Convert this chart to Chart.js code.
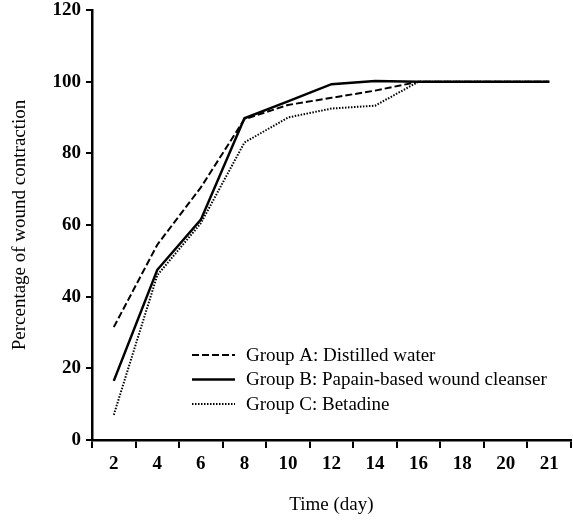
<!DOCTYPE html>
<html>
<head>
<meta charset="utf-8">
<script src="https://cdn.jsdelivr.net/npm/chart.js@4"></script>
<style>
  html, body { margin: 0; padding: 0; background: #fff; }
  #wrap { width: 573px; height: 520px; }
</style>
</head>
<body>
<div id="wrap"><canvas id="graficoContracao"></canvas></div>
<script>
// Dias e percentual de contração da ferida por grupo
const dias = ['2', '4', '6', '8', '10', '12', '14', '16', '18', '20', '21'];
const grupoA = [31.5, 54.5, 70.5, 89.5, 93.5, 95.5, 97.5, 100, 100, 100, 100];
const grupoB = [16.5, 47.5, 61.5, 89.8, 94.5, 99.3, 100.2, 100, 100, 100, 100];
const grupoC = [7, 46, 60.5, 83, 90, 92.5, 93.3, 100, 100, 100, 100];
const nomes = ['Group A: Distilled water', 'Group B: Papain-based wound cleanser', 'Group C: Betadine'];

const fonte = 'Liberation Serif, Times New Roman, serif';

// legenda desenhada dentro da área do gráfico
const legendaInterna = {
    id: 'legendaInterna',
    afterDraw(chart) {
        const ctx = chart.ctx;
        const area = chart.chartArea;
        const x0 = area.left + 100;
        let y = area.top + 345;
        ctx.save();
        ctx.font = '19px ' + fonte;
        ctx.textBaseline = 'middle';
        chart.data.datasets.forEach(ds => {
            ctx.strokeStyle = '#000';
            ctx.lineWidth = ds.borderWidth;
            ctx.setLineDash(ds.borderDash || []);
            ctx.beginPath();
            ctx.moveTo(x0, y);
            ctx.lineTo(x0 + 43, y);
            ctx.stroke();
            ctx.setLineDash([]);
            ctx.fillStyle = '#000';
            ctx.fillText(ds.label, x0 + 54, y + 1);
            y += 24.5;
        });
        ctx.restore();
    }
};

const ctxContracao = document.getElementById('graficoContracao').getContext('2d');
new Chart(ctxContracao, {
    type: 'line',
    data: {
        labels: dias,
        datasets: [{
            label: nomes[0],
            data: grupoA,
            borderColor: '#000',
            borderWidth: 2,
            borderDash: [7, 3],
            pointRadius: 0,
            tension: 0
        }, {
            label: nomes[1],
            data: grupoB,
            borderColor: '#000',
            borderWidth: 2.5,
            pointRadius: 0,
            tension: 0
        }, {
            label: nomes[2],
            data: grupoC,
            borderColor: '#000',
            borderWidth: 2,
            borderDash: [1.5, 1.5],
            pointRadius: 0,
            tension: 0
        }]
    },
    options: {
        responsive: true,
        maintainAspectRatio: false,
        animation: false,
        layout: { padding: { top: 10, right: 2, left: 0, bottom: 0 } },
        plugins: {
            legend: { display: false },
            tooltip: { enabled: false }
        },
        scales: {
            x: {
                offset: true,
                afterFit(scale) { scale.height = 80; },
                grid: {
                    offset: true,
                    drawOnChartArea: false,
                    drawTicks: true,
                    tickLength: 8,
                    color: '#000',
                    lineWidth: 2
                },
                border: { color: '#000', width: 2.5 },
                ticks: {
                    color: '#000',
                    padding: 5,
                    maxRotation: 0,
                    autoSkip: false,
                    font: { family: fonte, size: 19, weight: 'bold' }
                },
                title: {
                    display: true,
                    text: 'Time (day)',
                    color: '#000',
                    padding: { top: 0, bottom: 4 },
                    font: { family: fonte, size: 19 }
                }
            },
            y: {
                min: 0,
                max: 120,
                afterFit(scale) {
                    scale.width = 92;
                    scale.paddingTop = 0;
                    scale.paddingBottom = 0;
                },
                grid: {
                    drawOnChartArea: false,
                    drawTicks: true,
                    tickLength: 6,
                    color: '#000',
                    lineWidth: 2
                },
                border: { color: '#000', width: 2.5 },
                ticks: {
                    stepSize: 20,
                    color: '#000',
                    padding: 5,
                    font: { family: fonte, size: 19, weight: 'bold' }
                },
                title: {
                    display: true,
                    text: 'Percentage of wound contraction',
                    color: '#000',
                    padding: { top: 9, bottom: 4 },
                    font: { family: fonte, size: 19 }
                }
            }
        }
    },
    plugins: [legendaInterna]
});
</script>
</body>
</html>
